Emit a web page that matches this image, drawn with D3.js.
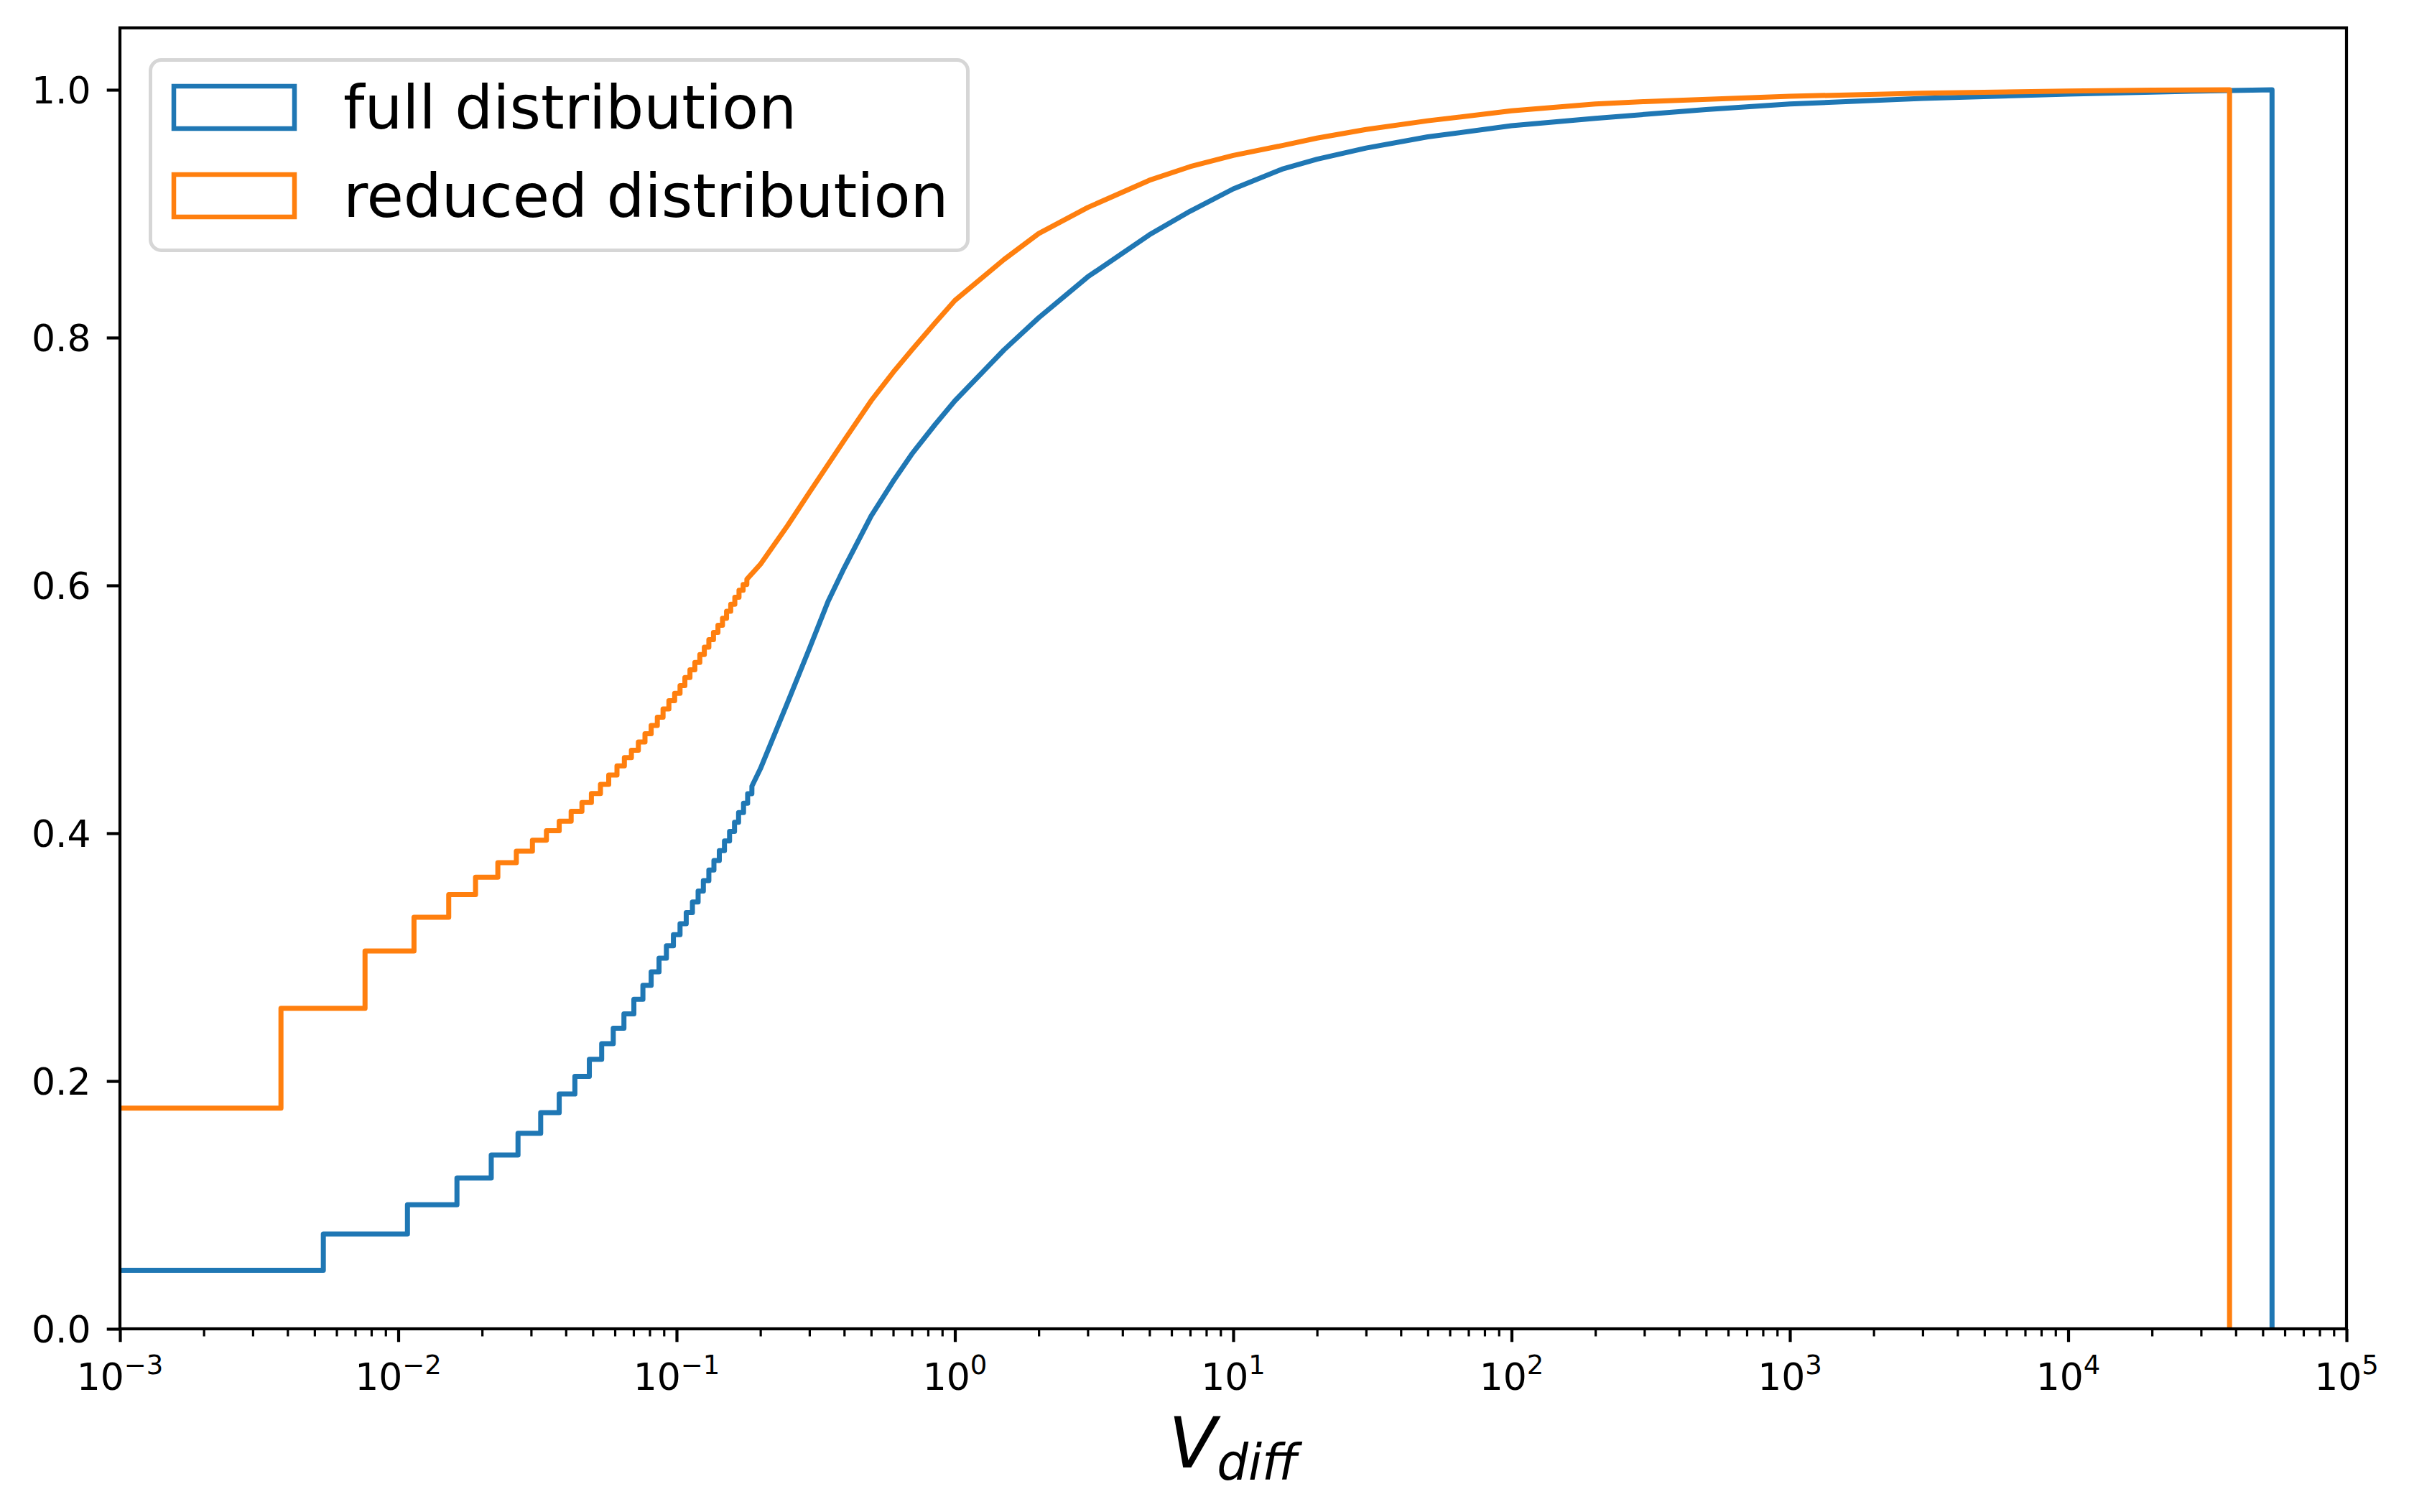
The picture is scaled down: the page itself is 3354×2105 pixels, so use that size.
<!DOCTYPE html>
<html>
<head>
<meta charset="utf-8">
<script src="https://cdnjs.cloudflare.com/ajax/libs/d3/7.8.5/d3.min.js"></script>
<style>
    body { margin: 0; background: #fff; }
    svg { display: block; font-family: "DejaVu Sans", sans-serif; }
</style>
</head>
<body>
<svg id="chart" width="3354" height="2105"></svg>
<script>
// series names / colours
var seriesNames = ['full distribution', 'reduced distribution'];
var seriesColors = ['#1f77b4', '#ff7f0e'];

// axis ticks
var xTickValues = [1e-3, 1e-2, 1e-1, 1e0, 1e1, 1e2, 1e3, 1e4, 1e5];
var yTickValues = [0.0, 0.2, 0.4, 0.6, 0.8, 1.0];

// full distribution: bin edges of the visible stairs and the level before each edge
var fullStepEdges = [0.00538, 0.01079, 0.01625, 0.02158, 0.02693, 0.03249, 0.03787, 0.04311, 0.04859, 0.05381,
    0.05922, 0.06469, 0.07023, 0.07568, 0.08103, 0.08648, 0.09192, 0.09741, 0.1029, 0.1083,
    0.1140, 0.1195, 0.1248, 0.1306, 0.1362, 0.1424, 0.1486, 0.1550, 0.1615, 0.1670,
    0.1740, 0.1800, 0.1864];
var fullStepLevels = [0.0473, 0.0765, 0.1001, 0.1217, 0.1403, 0.1578, 0.1745, 0.1895, 0.2037, 0.2176,
    0.2301, 0.2426, 0.2542, 0.2659, 0.2773, 0.2881, 0.2992, 0.3092, 0.3181, 0.3270,
    0.3359, 0.3445, 0.3534, 0.3617, 0.3703, 0.3779, 0.3859, 0.3937, 0.4014, 0.4089,
    0.4167, 0.4242, 0.4319];
// full distribution: dense part (steps too fine to see)
var fullCurveX = [0.1865, 0.2, 0.25, 0.3, 0.35, 0.4, 0.5, 0.6, 0.7, 0.85, 1, 1.5, 2, 3, 5, 7, 10, 15, 20, 30, 50, 100, 200, 500, 1000, 3000, 10000, 30000];
var fullCurveY = [0.438, 0.452, 0.505, 0.549, 0.587, 0.614, 0.656, 0.684, 0.706, 0.73, 0.749, 0.79, 0.816, 0.849, 0.883, 0.902, 0.92, 0.936, 0.944, 0.953, 0.962, 0.971, 0.977, 0.984, 0.9885, 0.993, 0.9965, 0.999];
var fullMax = 54000;

// reduced distribution
var reducedStepEdges = [0.003789, 0.007596, 0.01139, 0.01518, 0.01895, 0.02279, 0.02656, 0.03034, 0.03407, 0.03787,
    0.04180, 0.04570, 0.04942, 0.05327, 0.05704, 0.06107, 0.06492, 0.06881, 0.07289, 0.07699,
    0.08103, 0.08527, 0.08941, 0.09383, 0.09841, 0.1029, 0.1071, 0.1117, 0.1163, 0.1212,
    0.1258, 0.1306, 0.1357, 0.1408, 0.1462, 0.1512, 0.1565, 0.1619, 0.1676, 0.1734,
    0.1788];
var reducedStepLevels = [0.1781, 0.2587, 0.3049, 0.3322, 0.3505, 0.3645, 0.3762, 0.3855, 0.3944, 0.4021,
    0.4097, 0.4177, 0.4248, 0.4321, 0.4394, 0.4470, 0.4544, 0.4610, 0.4670, 0.4736,
    0.4803, 0.4870, 0.4936, 0.5003, 0.5069, 0.5129, 0.5192, 0.5256, 0.5319, 0.5378,
    0.5442, 0.5502, 0.5562, 0.5621, 0.5678, 0.5735, 0.5791, 0.5848, 0.5904, 0.5961,
    0.6007];
var reducedCurveX = [0.1789, 0.2, 0.25, 0.3, 0.4, 0.5, 0.6, 0.7, 0.85, 1, 1.5, 2, 3, 5, 7, 10, 15, 20, 30, 50, 100, 200, 300, 1000, 3000, 10000, 20000];
var reducedCurveY = [0.605, 0.617, 0.648, 0.675, 0.717, 0.749, 0.772, 0.79, 0.812, 0.83, 0.863, 0.884, 0.905, 0.927, 0.938, 0.947, 0.955, 0.961, 0.968, 0.975, 0.983, 0.9885, 0.9905, 0.9948, 0.9972, 0.999, 0.9997];
var reducedMax = 38000;

var svg = d3.select('#chart');
var plotLeft = 167, plotRight = 3267, plotTop = 38.75, plotBottom = 1850;

var x = d3.scaleLog().domain([1e-3, 1e5]).range([plotLeft, plotRight]);
var y = d3.scaleLinear().domain([0, 1.05]).range([plotBottom, plotTop]);

svg.append('rect').attr('width', 3354).attr('height', 2105).attr('fill', '#fff');

svg.append('defs').append('clipPath').attr('id', 'plot-clip')
    .append('rect')
    .attr('x', plotLeft).attr('y', plotTop)
    .attr('width', plotRight - plotLeft).attr('height', plotBottom - plotTop);

// histogram outline (step) -> list of corner points
function stepPoints(edges, levels, curveX, curveY, vmax) {
    var pts = [[x.domain()[0], levels[0]]];
    edges.forEach(function (e, i) {
        pts.push([e, levels[i]]);
        if (i + 1 < levels.length) pts.push([e, levels[i + 1]]);
    });
    curveX.forEach(function (v, i) {
        pts.push([v, curveY[i]]);
    });
    pts.push([vmax, 1.0]);
    pts.push([vmax, 0]);
    return pts;
}

var line = d3.line()
    .x(function (d) { return x(d[0]); })
    .y(function (d) { return y(d[1]); });

var series = [
    stepPoints(fullStepEdges, fullStepLevels, fullCurveX, fullCurveY, fullMax),
    stepPoints(reducedStepEdges, reducedStepLevels, reducedCurveX, reducedCurveY, reducedMax)
];

svg.append('g').attr('clip-path', 'url(#plot-clip)')
    .selectAll('path')
    .data(series)
    .enter().append('path')
    .attr('d', line)
    .attr('fill', 'none')
    .attr('stroke', function (d, i) { return seriesColors[i]; })
    .attr('stroke-width', 7)
    .attr('stroke-linejoin', 'round')
    .attr('stroke-linecap', 'butt');

// minor ticks on the log axis
var minorTicks = [];
xTickValues.slice(0, -1).forEach(function (base) {
    for (var m = 2; m <= 9; m++) minorTicks.push(base * m);
});

var xMinor = svg.append('g')
    .attr('transform', 'translate(0,' + plotBottom + ')')
    .call(d3.axisBottom(x).tickValues(minorTicks).tickSize(10.5).tickFormat(''));
xMinor.select('.domain').remove();
xMinor.selectAll('line').attr('stroke', '#000').attr('stroke-width', 3.2);

var xMajor = svg.append('g')
    .attr('transform', 'translate(0,' + plotBottom + ')')
    .call(d3.axisBottom(x).tickValues(xTickValues).tickSize(18.3).tickFormat(''));
xMajor.select('.domain').remove();
xMajor.selectAll('line').attr('stroke', '#000').attr('stroke-width', 4.2);

// 10^n labels
var xLabels = svg.append('g').selectAll('text')
    .data(xTickValues)
    .enter().append('text')
    .attr('x', function (d) { return x(d); })
    .attr('y', 1935)
    .attr('text-anchor', 'middle')
    .attr('font-size', 52)
    .attr('fill', '#000');
xLabels.append('tspan').text('10');
xLabels.append('tspan')
    .attr('dy', -22)
    .attr('font-size', 37)
    .text(function (d) {
        var e = Math.round(Math.log10(d));
        return (e < 0 ? '\u2212' : '') + Math.abs(e);
    });

var yAxis = svg.append('g')
    .attr('transform', 'translate(' + plotLeft + ',0)')
    .call(d3.axisLeft(y).tickValues(yTickValues).tickSize(18.3).tickPadding(22).tickFormat(d3.format('.1f')));
yAxis.select('.domain').remove();
yAxis.selectAll('line').attr('stroke', '#000').attr('stroke-width', 4.2);
yAxis.selectAll('text')
    .attr('font-size', 52)
    .attr('font-family', '"DejaVu Sans", sans-serif')
    .attr('fill', '#000')
    .attr('dy', '0.36em');

// spines
svg.append('rect')
    .attr('x', plotLeft).attr('y', plotTop)
    .attr('width', plotRight - plotLeft).attr('height', plotBottom - plotTop)
    .attr('fill', 'none')
    .attr('stroke', '#000')
    .attr('stroke-width', 4.2);

// x label: V_diff
var xTitle = svg.append('text')
    .attr('x', (plotLeft + plotRight) / 2)
    .attr('y', 2043)
    .attr('text-anchor', 'middle')
    .attr('font-style', 'italic')
    .attr('fill', '#000');
xTitle.append('tspan').attr('font-size', 98).text('V');
xTitle.append('tspan').attr('font-size', 69).attr('dy', 17).text('diff');

// legend
var legend = svg.append('g');
legend.append('rect')
    .attr('x', 209.5).attr('y', 83.5)
    .attr('width', 1138).attr('height', 265)
    .attr('rx', 15).attr('ry', 15)
    .attr('fill', '#fff').attr('fill-opacity', 0.8)
    .attr('stroke', '#d6d6d6').attr('stroke-width', 5);

var legendRows = legend.selectAll('g.row')
    .data(seriesNames)
    .enter().append('g')
    .attr('class', 'row')
    .attr('transform', function (d, i) { return 'translate(0,' + (i * 123) + ')'; });
legendRows.append('rect')
    .attr('x', 242).attr('y', 120)
    .attr('width', 168).attr('height', 59)
    .attr('fill', 'none')
    .attr('stroke', function (d, i) { return seriesColors[i]; })
    .attr('stroke-width', 6.5);
legendRows.append('text')
    .attr('x', 478).attr('y', 179)
    .attr('font-size', 83.5)
    .attr('fill', '#000')
    .text(function (d) { return d; });
</script>
</body>
</html>
